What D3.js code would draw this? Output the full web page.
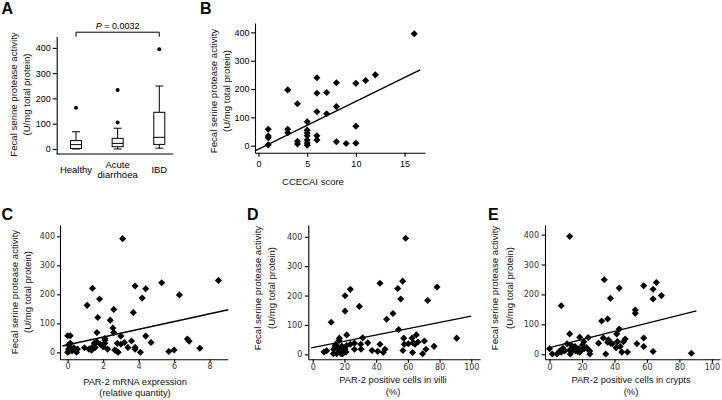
<!DOCTYPE html>
<html><head><meta charset="utf-8">
<script src="https://cdn.jsdelivr.net/npm/d3@7"></script>
<style>
body{margin:0;background:#fff;}
svg{display:block;}
</style></head><body>
<svg id="chart" width="722" height="400"></svg>
<script>
// ---------- DATA ----------
// Panel A: box plots
const boxCategories = ["Healthy", "Acute diarrhoea", "IBD"];
const boxMin = [0, 0, 3];
const boxQ1 = [2, 9, 18];
const boxMedian = [17, 22, 46];
const boxQ3 = [33, 42, 145];
const boxMax = [68, 82, 249];
const boxOutliers = [[163], [105, 233], [395]];
const pValueText = "= 0.0032";
const activityTicks = [0, 100, 200, 300, 400];

// Panel B: CCECAI score
const ccecaiScore = [1, 1, 1, 1, 3, 3, 3, 4, 4, 4, 5, 5, 5, 5, 5, 5, 5, 6, 6, 6, 6, 6, 7, 7, 8, 8, 8, 9, 10, 10, 10, 11, 12, 16];
const ccecaiActivity = [58, 34, 28, 3, 197, 58, 46, 148, 16, 6, 85, 55, 45, 35, 20, 10, 2, 240, 185, 120, 35, 20, 188, 113, 222, 138, 14, 8, 220, 69, 9, 230, 250, 395];
const ccecaiTicks = [0, 5, 10, 15];
const ccecaiFitX = [-0.36, 16.6];
const ccecaiFitY = [-18, 268];

// Panel C: PAR-2 mRNA expression
const mrnaX = [3.1, 8.5, 5.3, 3.8, 4.4, 1.4, 6.3, 4.2, 1.8, 1.1, 2.6, 3.7, 2.4, 1.7, 2.55, 2.6, 1.65, 0, 0.15, 3.0, 4.4, 2.1, 2.1, 4.7, 3.2, 3.6, 2.8, 3.0, 1.65, 1.5, 3.8, 6.75, 6.85, 7.45, 5.7, 6.0, 4.1, 3.8, 3.4, 2.25, 2.75, 2.85, 2.65, 1.2, 1.35, 0.95, 1.55, 1.85, 2.0, 2.1, 0.05, 0.15, 0.05, 0.05, 0.25, 0.35, 0.45, 0.55, 0.2, 0.5, 0, 1.35];
const mrnaY = [392, 248, 240, 229, 219, 221, 198, 187, 184, 162, 148, 137, 111, 120, 84, 68, 68, 57, 57, 56, 56, 48, 42, 34, 34, 39, 31, 28, 36, 31, 17, 46, 38, 14, 3, 8, 0, 11, 17, 11, 5, 0, 8, 11, 7, 16, 17, 27, 19, 31, 25, 31, 11, 2, 5, 16, 8, 11, 11, 0, 0, 16];
const mrnaTicks = [0, 2, 4, 6, 8];
const mrnaFitX = [-0.3, 9.05];
const mrnaFitY = [22, 147];

// Panel D: PAR-2 positive cells in villi
const villiX = [58.6, 56.7, 42.4, 53.6, 78.4, 23.7, 20.4, 55.5, 72.5, 20.4, 29.4, 50.6, 46.6, 11.6, 54.2, 21.4, 16.8, 16.6, 31.5, 57.4, 62.6, 65.3, 90.8, 70.4, 57.8, 60.3, 63.4, 66.4, 64.5, 76.5, 71.4, 56.9, 63, 69.3, 42.4, 45.6, 44.5, 41, 37.4, 34.7, 30.3, 26.3, 23.7, 30.5, 26.3, 21.4, 20.4, 18.9, 16.8, 14.5, 14.1, 13.2, 13.0, 7.1, 8.8, 17.9, 18.9, 15.1, 21, 19.3, 16.2, 18.3];
const villiY = [395, 249, 242, 224, 229, 221, 199, 188, 183, 147, 163, 139, 119, 109, 84, 66, 55, 47, 56, 55, 55, 66, 55, 45, 34, 36, 39, 42, 34, 27, 17, 13, 6, 2, 34, 17, 6, 10, 13, 39, 34, 38, 34, 17, 17, 30, 17, 10, 13, 34, 28, 17, 2, 8, 12, 2, 2, 2, 8, 21, 21, 28];
const percentTicks = [0, 20, 40, 60, 80, 100];
const villiFitX = [-1, 100];
const villiFitY = [22, 130];

// Panel E: PAR-2 positive cells in crypts
const cryptX = [12.4, 33.7, 42.9, 58, 65.8, 63.8, 68.9, 63.8, 37.5, 7.2, 52.8, 52.8, 35.8, 32.1, 42.9, 12.4, 41.4, 18.6, 23.8, 33.1, 46.6, 58, 45.5, 36.2, 41.8, 37.7, 35.8, 38.7, 30.2, 43.5, 41, 53.8, 58, 21.1, 20.3, 21.3, 24.8, 24.8, 34.6, 44.5, 48, 63.8, 87.4, 0, 1.7, 4.6, 6.2, 8.3, 7.2, 10.8, 13.5, 12.4, 12.8, 14.5, 16.1, 17.4, 18, 16.8, 19.7, 15.7, 9.3, 22.8, 18.6];
const cryptY = [394, 249, 221, 229, 240, 217, 196, 185, 187, 162, 148, 137, 118, 111, 84, 68, 68, 57, 56, 54, 51, 54, 42, 48, 42, 37, 40, 35, 37, 26, 22, 35, 26, 42, 31, 18, 11, 1, 1, 7, 7, 9, 3, 18, 1, 1, 11, 20, 7, 35, 29, 14, 1, 14, 11, 9, 18, 18, 14, 26, 11, 22, 7];
const cryptFitX = [0, 90.5];
const cryptFitY = [22, 145];

const yTitleLines = ["Fecal serine protease activity", "(U/mg total protein)"];

// ---------- DRAWING ----------
const ARIAL = "'Liberation Sans', Arial, Helvetica, sans-serif";
const VERD = "'DejaVu Sans', Verdana, sans-serif";
const svg = d3.select("#chart");

function styleAxis(sel, family, size, color) {
  sel.select(".domain").attr("stroke", "#000").attr("stroke-width", 1.1);
  sel.selectAll(".tick line").attr("stroke", "#000").attr("stroke-width", 1.1);
  sel.selectAll(".tick text").attr("fill", color)
    .style("font-family", family).style("font-size", size + "px");
}

function panelLetter(t, x, y) {
  svg.append("text").attr("x", x).attr("y", y).text(t)
    .style("font-family", ARIAL).style("font-weight", "bold").style("font-size", "16px");
}

function yTitle(g, x1, x2, cy, size) {
  [x1, x2].forEach((bx, i) => {
    g.append("text").attr("transform", `translate(${bx},${cy}) rotate(-90)`)
      .attr("text-anchor", "middle").text(yTitleLines[i])
      .style("font-family", ARIAL).style("font-size", size + "px").attr("fill", "#111");
  });
}

function xTitle(g, lines, cx, b1, lh, size) {
  lines.forEach((l, i) => {
    g.append("text").attr("x", cx).attr("y", b1 + i * lh).attr("text-anchor", "middle")
      .text(l).style("font-family", ARIAL).style("font-size", size + "px").attr("fill", "#111");
  });
}

function scatter(o) {
  const g = svg.append("g");
  const x = d3.scaleLinear().domain(o.xDomain).range(o.xRange);
  const y = d3.scaleLinear().domain(o.yDomain).range(o.yRange);
  g.append("g").attr("transform", `translate(0,${o.yRange[0]})`)
    .call(d3.axisBottom(x).tickValues(o.xTicks).tickSize(o.tick).tickSizeOuter(0).tickPadding(o.xPad))
    .call(styleAxis, o.font, o.fontSize, o.tickColor);
  g.append("g").attr("transform", `translate(${o.xRange[0]},0)`)
    .call(d3.axisLeft(y).tickValues(activityTicks).tickSize(o.tick).tickSizeOuter(0).tickPadding(o.yPad))
    .call(styleAxis, o.font, o.fontSize, o.tickColor);
  g.append("g").selectAll("path").data(o.xs.map((v, i) => [v, o.ys[i]])).join("path")
    .attr("d", d3.symbol(d3.symbolSquare, 25))
    .attr("transform", d => `translate(${x(d[0])},${y(d[1])}) rotate(45)`)
    .attr("fill", "#000");
  g.append("path").datum(o.fitX.map((v, i) => [v, o.fitY[i]]))
    .attr("d", d3.line().x(d => x(d[0])).y(d => y(d[1])))
    .attr("fill", "none").attr("stroke", "#000").attr("stroke-width", 1.4);
  return g;
}

// ----- Panel A -----
panelLetter("A", 1.5, 14);
{
  const g = svg.append("g");
  const xA = d3.scalePoint().domain(boxCategories).range([76, 159.3]);
  const yA = d3.scaleLinear().domain([-20, 445]).range([154, 36.5]);
  g.append("g").attr("transform", "translate(56.7,0)")
    .call(d3.axisLeft(yA).tickValues(activityTicks).tickSize(4).tickSizeOuter(0).tickPadding(2))
    .call(styleAxis, ARIAL, 9, "#000");
  g.append("line").attr("x1", 56.7).attr("x2", 173.3).attr("y1", yA(-20)).attr("y2", yA(-20))
    .attr("stroke", "#000").attr("stroke-width", 1.1);
  const bw = 11, cw = 8;
  boxCategories.forEach((c, i) => {
    const cx = xA(c);
    g.append("line").attr("x1", cx).attr("x2", cx).attr("y1", yA(boxQ3[i])).attr("y2", yA(boxMax[i])).attr("stroke", "#000");
    g.append("line").attr("x1", cx).attr("x2", cx).attr("y1", yA(boxQ1[i])).attr("y2", yA(boxMin[i])).attr("stroke", "#000");
    g.append("line").attr("x1", cx - cw / 2).attr("x2", cx + cw / 2).attr("y1", yA(boxMax[i])).attr("y2", yA(boxMax[i])).attr("stroke", "#000");
    g.append("line").attr("x1", cx - cw / 2).attr("x2", cx + cw / 2).attr("y1", yA(boxMin[i])).attr("y2", yA(boxMin[i])).attr("stroke", "#000");
    g.append("rect").attr("x", cx - bw / 2).attr("width", bw)
      .attr("y", yA(boxQ3[i])).attr("height", yA(boxQ1[i]) - yA(boxQ3[i]))
      .attr("fill", "#fff").attr("stroke", "#000");
    g.append("line").attr("x1", cx - bw / 2).attr("x2", cx + bw / 2).attr("y1", yA(boxMedian[i])).attr("y2", yA(boxMedian[i])).attr("stroke", "#000");
    boxOutliers[i].forEach(v => {
      g.append("circle").attr("cx", cx).attr("cy", yA(v)).attr("r", 2).attr("fill", "#000");
    });
    const words = c.split(" ");
    words.forEach((w, j) => {
      g.append("text").attr("x", cx).attr("y", 173 + (j - (words.length - 1) / 2) * 10.2)
        .attr("text-anchor", "middle").text(w)
        .style("font-family", ARIAL).style("font-size", "9.5px").attr("fill", "#000");
    });
  });
  // significance bracket
  const by = yA(462);
  g.append("path")
    .attr("d", `M${xA(boxCategories[0])},${by + 4.5}V${by}H${xA(boxCategories[2])}V${by + 4.5}`)
    .attr("fill", "none").attr("stroke", "#000");
  const pt = g.append("text").attr("x", (xA(boxCategories[0]) + xA(boxCategories[2])) / 2).attr("y", by - 3)
    .attr("text-anchor", "middle").style("font-family", ARIAL).style("font-size", "9px");
  pt.append("tspan").style("font-style", "italic").text("P");
  pt.append("tspan").text(" " + pValueText);
  yTitle(g, 16.5, 29.5, 94.5, 9.6);
}

// ----- Panel B -----
panelLetter("B", 200, 14);
{
  const g = scatter({
    xs: ccecaiScore, ys: ccecaiActivity, xTicks: ccecaiTicks,
    xDomain: [-0.36, 17.1], xRange: [255, 425],
    yDomain: [-25, 433], yRange: [152.8, 23],
    fitX: ccecaiFitX, fitY: ccecaiFitY,
    tick: 4, xPad: 4, yPad: 1.5, font: ARIAL, fontSize: 9, tickColor: "#000"
  });
  yTitle(g, 217, 229.5, 91, 9.6);
  xTitle(g, ["CCECAI score"], 313, 184.5, 0, 9.5);
}

// ----- Panel C -----
panelLetter("C", 1.5, 220);
{
  const g = scatter({
    xs: mrnaX, ys: mrnaY, xTicks: mrnaTicks,
    xDomain: [-0.43, 9.02], xRange: [60, 227.7],
    yDomain: [-24, 439], yRange: [359.3, 225],
    fitX: mrnaFitX, fitY: mrnaFitY,
    tick: 3, xPad: 1.5, yPad: 2, font: VERD, fontSize: 8, tickColor: "#333"
  });
  yTitle(g, 17.5, 31, 292, 9.6);
  xTitle(g, ["PAR-2 mRNA expression", "(relative quantity)"], 135, 384.5, 11.5, 9.3);
}

// ----- Panel D -----
panelLetter("D", 247, 220);
{
  const g = scatter({
    xs: villiX, ys: villiY, xTicks: percentTicks,
    xDomain: [-2.8, 105.5], xRange: [308.3, 480],
    yDomain: [-17, 440], yRange: [359.3, 225],
    fitX: villiFitX, fitY: villiFitY,
    tick: 3.5, xPad: 2, yPad: 2.5, font: VERD, fontSize: 8, tickColor: "#333"
  });
  yTitle(g, 261, 275, 288, 9.6);
  xTitle(g, ["PAR-2 positive cells in villi", "(%)"], 393, 382.5, 12, 9.3);
}

// ----- Panel E -----
panelLetter("E", 488, 220);
{
  const g = scatter({
    xs: cryptX, ys: cryptY, xTicks: percentTicks,
    xDomain: [-2.8, 105], xRange: [545, 720],
    yDomain: [-17, 432], yRange: [359.3, 225],
    fitX: cryptFitX, fitY: cryptFitY,
    tick: 3.5, xPad: 2, yPad: 2.5, font: VERD, fontSize: 8, tickColor: "#333"
  });
  yTitle(g, 498, 512.5, 288, 9.6);
  xTitle(g, ["PAR-2 positive cells in crypts", "(%)"], 631, 382.5, 12, 9.3);
}
</script>
</body></html>
